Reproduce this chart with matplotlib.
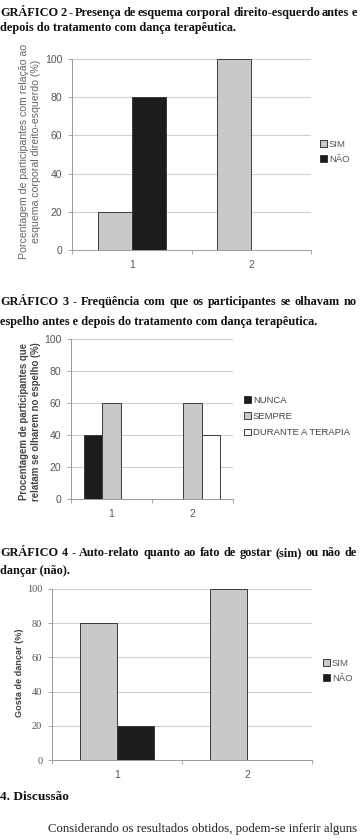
import matplotlib.pyplot as plt
import numpy as np

# data
categories = ['1', '2']

g2_sim = [20, 100]
g2_nao = [80, 0]

g3_nunca = [40, 0]
g3_sempre = [60, 60]
g3_durante = [0, 40]

g4_sim = [80, 100]
g4_nao = [20, 0]

yticks = [0, 20, 40, 60, 80, 100]

W, H = 360, 840
fig = plt.figure(figsize=(W / 100, H / 100), dpi=100)
fig.patch.set_facecolor('white')
renderer = fig.canvas.get_renderer()

SANS = ['Liberation Sans', 'DejaVu Sans']
SERIF = ['Liberation Serif', 'DejaVu Serif']
GRAY = '#c9c9c9'
BLACK = '#1c1c1c'


def px_axes(left, right, top, bottom):
    return fig.add_axes([left / W, 1 - bottom / H, (right - left) / W, (bottom - top) / H])


def ftext(x, y, s, **kw):
    return fig.text(x / W, 1 - y / H, s, **kw)


def justified(x0, x1, y, s, **kw):
    # spread the words of one line between x0 and x1 (pixels)
    words = s.split(' ')
    widths = []
    for wd in words:
        t = ftext(0, 0, wd, **kw)
        widths.append(t.get_window_extent(renderer).width)
        t.remove()
    gap = (x1 - x0 - sum(widths)) / (len(words) - 1)
    x = x0
    for wd, wdt in zip(words, widths):
        ftext(x, y, wd, **kw)
        x += wdt + gap


def style_axes(ax, tick_family=SANS):
    ax.set_xlim(-0.5, 1.5)
    ax.set_ylim(0, 100)
    ax.set_yticks(yticks)
    ax.set_xticks(range(len(categories)))
    ax.set_xticklabels(categories)
    ax.set_xticks([-0.5, 0.5, 1.5], minor=True)
    ax.tick_params(axis='x', which='major', length=0, pad=7, labelsize=7.5, colors='#555555')
    ax.tick_params(axis='x', which='minor', length=3, color='#999999', width=0.6)
    ax.tick_params(axis='y', length=3, color='#999999', width=0.6, pad=4, labelsize=7.5, labelcolor='#555555')
    for lab in ax.get_yticklabels():
        lab.set_family(tick_family)
    for lab in ax.get_xticklabels():
        lab.set_family(SANS)
    ax.grid(axis='y', color='#cfcfcf', linewidth=0.8)
    ax.set_axisbelow(True)
    for s in ['top', 'right']:
        ax.spines[s].set_visible(False)
    for s in ['left', 'bottom']:
        ax.spines[s].set_color('#9a9a9a')
        ax.spines[s].set_linewidth(0.7)


def bars(ax, offset, vals, w, color, label):
    x = np.arange(len(vals)) + offset
    keep = [i for i, v in enumerate(vals) if v > 0]
    ax.bar(x[keep], np.array(vals)[keep], width=w, color=color, edgecolor='#3a3a3a',
           linewidth=0.7, label=label, zorder=3)


# ---------- captions ----------
cap = dict(family=SERIF, fontweight='bold', fontsize=8.8, color='#111111', va='baseline')
justified(0, 357, 16, 'GRÁFICO 2 - Presença de esquema corporal direito-esquerdo antes e', **cap)
ftext(0, 31, 'depois do tratamento com dança terapêutica.', **cap)
justified(0, 357, 305, 'GRÁFICO 3 - Freqüência com que os participantes se olhavam no', **cap)
ftext(0, 325, 'espelho antes e depois do tratamento com dança terapêutica.', **cap)
justified(0, 357, 556, 'GRÁFICO 4 - Auto-relato quanto ao fato de gostar (sim) ou não de', **cap)
ftext(0, 574, 'dançar (não).', **cap)
ftext(0, 800, '4. Discussão', family=SERIF, fontweight='bold', fontsize=9.6, color='#111111')
ftext(48, 832, 'Considerando os resultados obtidos, podem-se inferir alguns',
      family=SERIF, fontsize=9.2, color='#222222')

# ---------- gráfico 2 ----------
ax1 = px_axes(72, 311, 59, 250)
w1 = 0.285
bars(ax1, -w1 / 2, g2_sim, w1, GRAY, 'SIM')
bars(ax1, w1 / 2, g2_nao, w1, BLACK, 'NÃO')
style_axes(ax1)
ftext(30, 151, 'Porcentagem de participantes com relação ao\nesquema corporal direito-esquerdo (%)',
      family=SANS, fontsize=7.6, color='#666666', rotation=90, ha='center', va='center',
      multialignment='center', linespacing=1.25)
ax1.legend(loc='upper left', bbox_to_anchor=(320 / W, 1 - 140 / H), bbox_transform=fig.transFigure,
           frameon=False, prop={'family': SANS, 'size': 6.8}, labelcolor='#555555',
           handlelength=0.7, handleheight=0.7, handletextpad=0.25, labelspacing=0.6,
           borderpad=0, borderaxespad=0)

# ---------- gráfico 3 ----------
ax2 = px_axes(71, 233, 339, 499)
w2 = 0.23
bars(ax2, -w2, g3_nunca, w2, BLACK, 'NUNCA')
bars(ax2, 0, g3_sempre, w2, GRAY, 'SEMPRE')
bars(ax2, w2, g3_durante, w2, 'white', 'DURANTE A TERAPIA')
style_axes(ax2)
ftext(30, 422, 'Procentagem de participantes que\nrelatam se olharem no espelho (%)',
      family=SANS, fontweight='bold', fontsize=6.9, color='#444444', rotation=90,
      ha='center', va='center', multialignment='center', linespacing=1.3)
ax2.legend(loc='upper left', bbox_to_anchor=(244 / W, 1 - 396 / H), bbox_transform=fig.transFigure,
           frameon=False, prop={'family': SANS, 'size': 6.8}, labelcolor='#444444',
           handlelength=0.7, handleheight=0.7, handletextpad=0.25, labelspacing=0.75,
           borderpad=0, borderaxespad=0)

# ---------- gráfico 4 ----------
ax3 = px_axes(52, 312, 589, 760)
w3 = 0.285
bars(ax3, -w3 / 2, g4_sim, w3, GRAY, 'SIM')
bars(ax3, w3 / 2, g4_nao, w3, BLACK, 'NÃO')
style_axes(ax3, tick_family=SERIF)
ftext(20, 673, 'Gosta de dançar (%)', family=SANS, fontweight='bold', fontsize=6.6,
      color='#444444', rotation=90, ha='center', va='center')
ax3.legend(loc='upper left', bbox_to_anchor=(323 / W, 1 - 659 / H), bbox_transform=fig.transFigure,
           frameon=False, prop={'family': SANS, 'size': 6.8}, labelcolor='#555555',
           handlelength=0.7, handleheight=0.7, handletextpad=0.25, labelspacing=0.6,
           borderpad=0, borderaxespad=0)

fig.savefig('out.png', dpi=100, facecolor='white')
